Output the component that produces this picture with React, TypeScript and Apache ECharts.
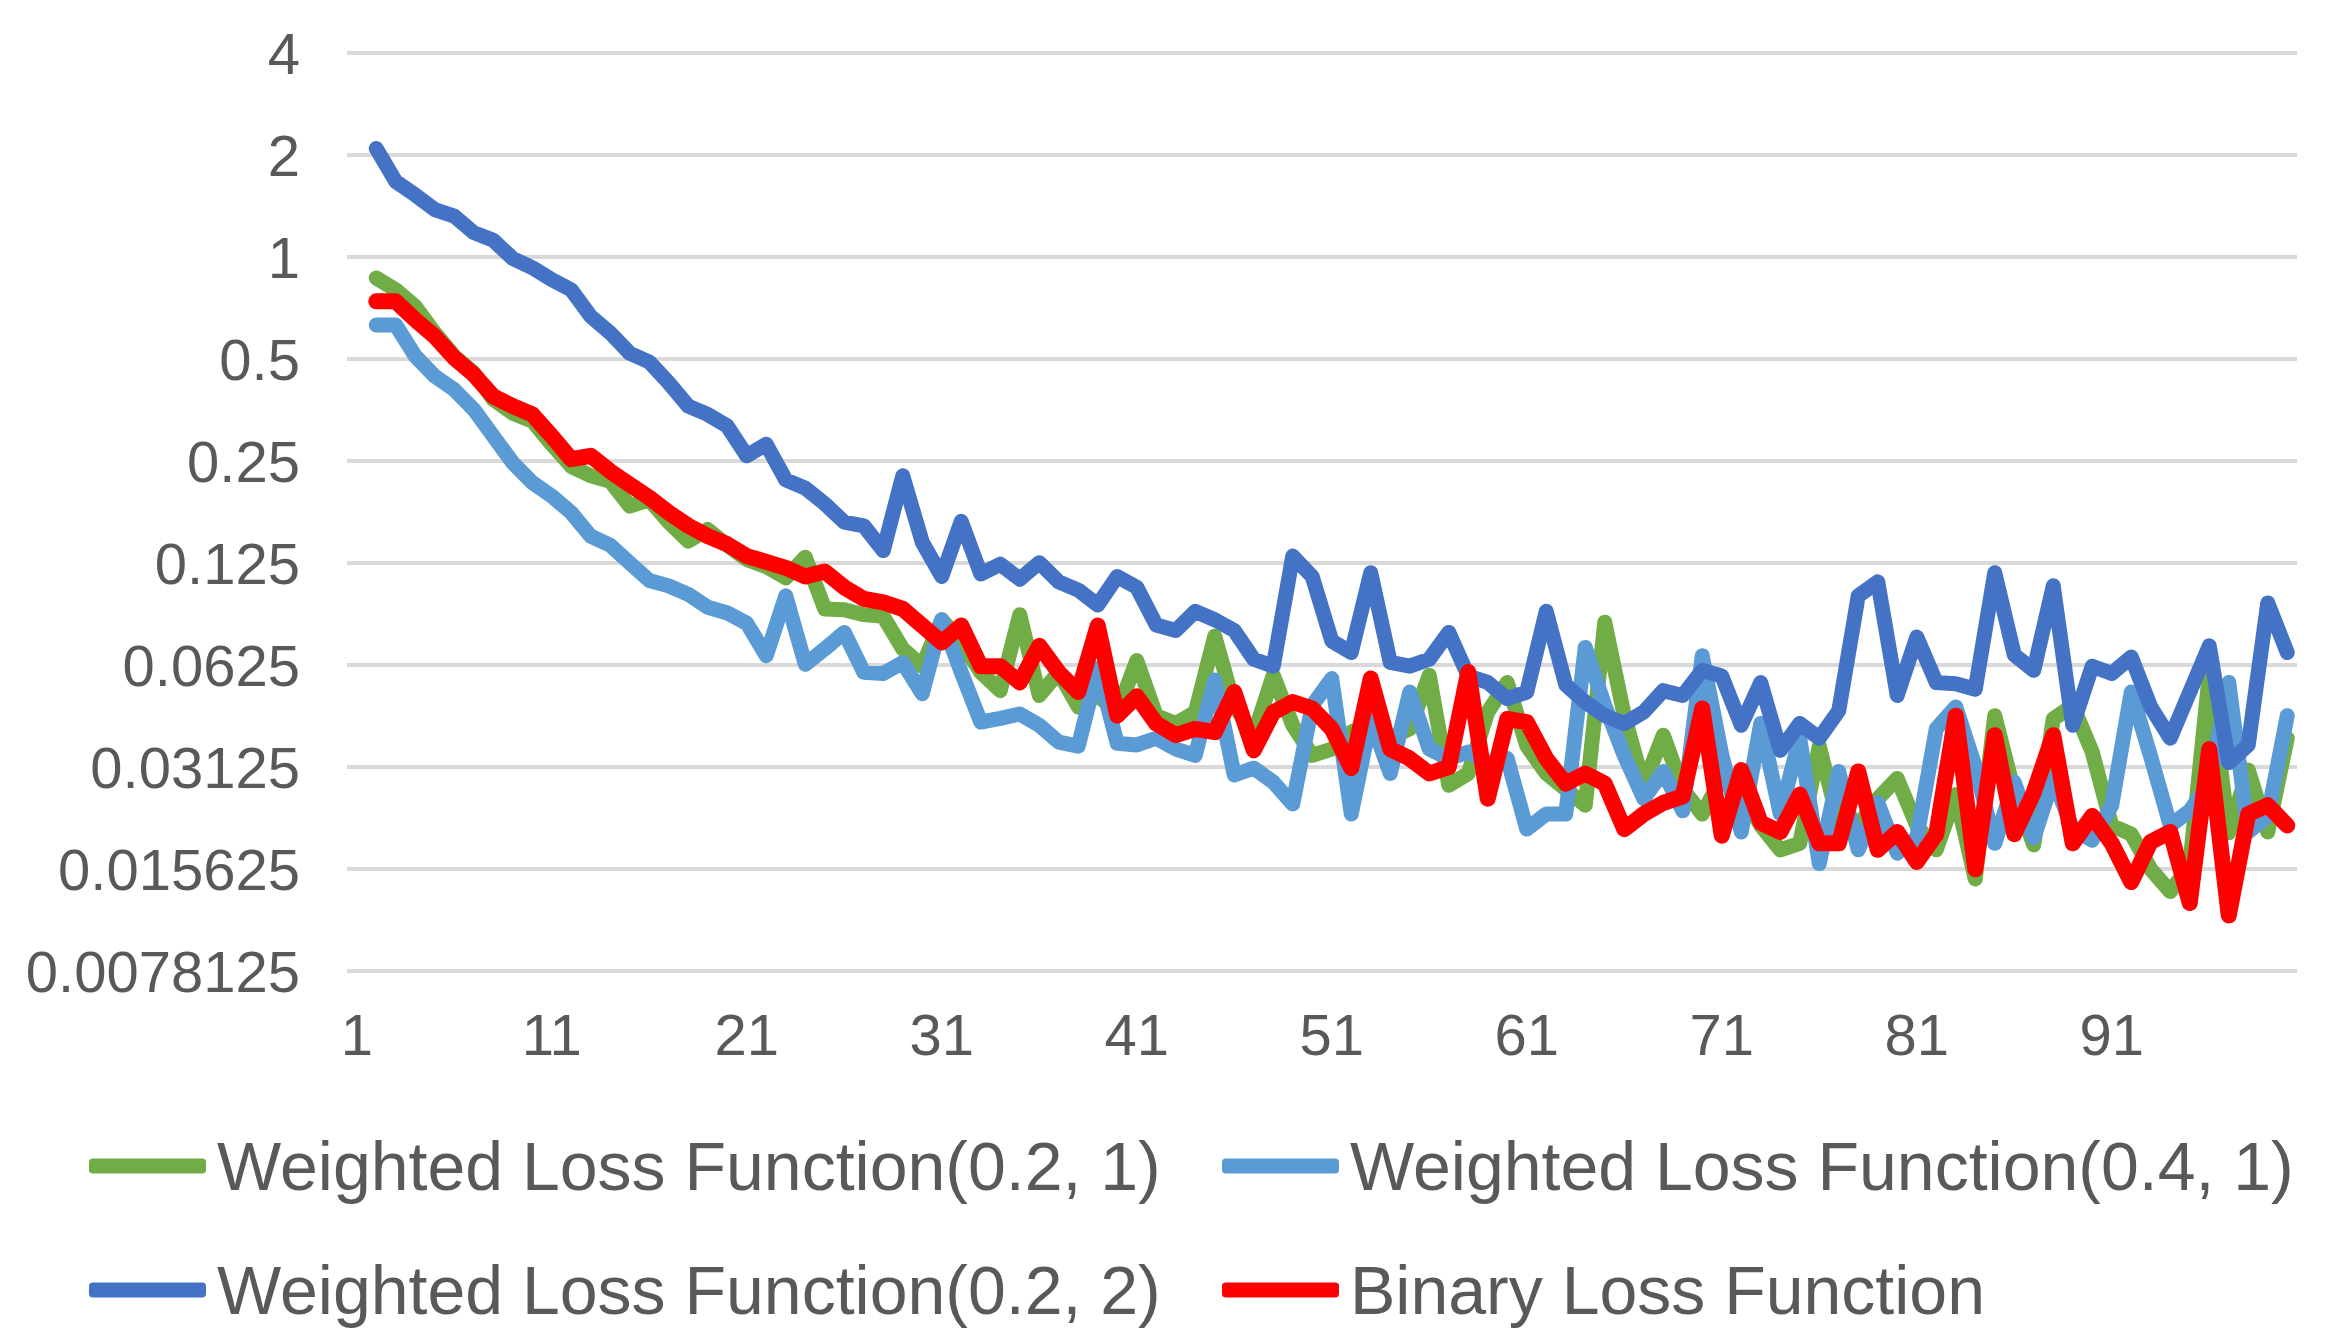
import React, { useEffect, useRef } from "react";
import * as echarts from "echarts";

// x categories 1..100 (labels shown every 10th)
const categories: string[] = Array.from({ length: 100 }, (_, i) => String(i + 1));

const seriesNames = [
  "Weighted Loss Function(0.2, 1)",
  "Weighted Loss Function(0.4, 1)",
  "Weighted Loss Function(0.2, 2)",
  "Binary Loss Function",
];

// category 1 carries no value; values start at category 2
const weighted021: (number | null)[] = [
  null,
  0.867, 0.80, 0.715, 0.597, 0.51, 0.455, 0.38, 0.346, 0.328, 0.28,
  0.241, 0.226, 0.218, 0.184, 0.192, 0.165, 0.145, 0.157, 0.141, 0.128,
  0.122, 0.113, 0.13, 0.0915, 0.091, 0.088, 0.087, 0.0697, 0.062, 0.085,
  0.073, 0.0595, 0.0525, 0.088, 0.0508, 0.0595, 0.047, 0.0508, 0.0453, 0.0644,
  0.0443, 0.042, 0.0453, 0.076, 0.0475, 0.0388, 0.0583, 0.0415, 0.0338, 0.0353,
  0.0396, 0.042, 0.038, 0.0405, 0.0583, 0.0276, 0.0299, 0.0454, 0.0555, 0.0361,
  0.0299, 0.0269, 0.0241, 0.0836, 0.0443, 0.0276, 0.0388, 0.0269, 0.0227, 0.029,
  0.0263, 0.021, 0.0178, 0.0186, 0.036, 0.0214, 0.021, 0.0252, 0.0289, 0.021,
  0.0178, 0.0259, 0.0146, 0.0443, 0.0263, 0.0184, 0.0433, 0.0475, 0.0346, 0.021,
  0.0198, 0.0156, 0.0134, 0.016, 0.0583, 0.02, 0.0306, 0.0201, 0.038,
];

const weighted041: (number | null)[] = [
  null,
  0.63, 0.63, 0.51, 0.445, 0.406, 0.355, 0.296, 0.247, 0.216, 0.197,
  0.176, 0.15, 0.141, 0.125, 0.111, 0.107, 0.101, 0.0925, 0.089, 0.083,
  0.0666, 0.1, 0.0628, 0.0697, 0.078, 0.0595, 0.059, 0.0636, 0.0514, 0.085,
  0.0595, 0.0424, 0.0435, 0.0448, 0.0415, 0.037, 0.036, 0.061, 0.0367, 0.0363,
  0.038, 0.0353, 0.0338, 0.0564, 0.0296, 0.031, 0.0282, 0.0243, 0.0475, 0.057,
  0.0227, 0.0433, 0.0299, 0.052, 0.0353, 0.0331, 0.0346, 0.0322, 0.0331, 0.0205,
  0.0227, 0.0227, 0.0704, 0.0475, 0.0338, 0.0252, 0.0303, 0.0232, 0.0666, 0.034,
  0.0201, 0.042, 0.0227, 0.038, 0.0162, 0.0303, 0.0178, 0.0245, 0.0174, 0.0193,
  0.0405, 0.047, 0.0313, 0.0186, 0.0282, 0.0193, 0.0289, 0.0205, 0.019, 0.0241,
  0.052, 0.0335, 0.021, 0.0232, 0.028, 0.0555, 0.0201, 0.0224, 0.0443,
];

const weighted022: (number | null)[] = [
  null,
  2.09, 1.67, 1.525, 1.38, 1.32, 1.18, 1.12, 0.99, 0.93, 0.857,
  0.80, 0.668, 0.597, 0.52, 0.49, 0.425, 0.363, 0.343, 0.317, 0.259,
  0.28, 0.22, 0.208, 0.187, 0.165, 0.161, 0.136, 0.226, 0.144, 0.114,
  0.166, 0.116, 0.124, 0.112, 0.1253, 0.11, 0.104, 0.094, 0.114, 0.106,
  0.082, 0.079, 0.09, 0.085, 0.079, 0.065, 0.062, 0.131, 0.114, 0.0736,
  0.068, 0.117, 0.0636, 0.062, 0.065, 0.078, 0.058, 0.0555, 0.0497, 0.052,
  0.09, 0.0546, 0.0486, 0.0443, 0.042, 0.0454, 0.0525, 0.0508, 0.0603, 0.058,
  0.0415, 0.0555, 0.035, 0.042, 0.038, 0.0458, 0.1, 0.11, 0.0508, 0.0756,
  0.0555, 0.055, 0.053, 0.117, 0.067, 0.0603, 0.107, 0.0415, 0.062, 0.059,
  0.066, 0.047, 0.038, 0.052, 0.0712, 0.0322, 0.0363, 0.0953, 0.068,
];

const binaryLoss: (number | null)[] = [
  null,
  0.74, 0.74, 0.653, 0.583, 0.504, 0.45, 0.388, 0.363, 0.343, 0.296,
  0.253, 0.259, 0.233, 0.213, 0.195, 0.176, 0.161, 0.15, 0.142, 0.131,
  0.126, 0.121, 0.114, 0.118, 0.106, 0.098, 0.0957, 0.0915, 0.0817, 0.0728,
  0.0817, 0.062, 0.062, 0.0555, 0.0712, 0.0595, 0.052, 0.0817, 0.0443, 0.0505,
  0.042, 0.0388, 0.0405, 0.0396, 0.052, 0.035, 0.0453, 0.0486, 0.0465, 0.0405,
  0.031, 0.057, 0.0353, 0.0331, 0.0299, 0.0312, 0.0596, 0.0252, 0.0433, 0.0424,
  0.0331, 0.0279, 0.0299, 0.0279, 0.0205, 0.0227, 0.0245, 0.0256, 0.0465, 0.0196,
  0.0306, 0.0214, 0.0201, 0.0259, 0.0186, 0.0186, 0.0303, 0.0178, 0.0201, 0.0164,
  0.0198, 0.0443, 0.0156, 0.0388, 0.0198, 0.0263, 0.0388, 0.0186, 0.0224, 0.0186,
  0.0143, 0.0188, 0.0201, 0.0124, 0.0353, 0.0114, 0.0227, 0.0241, 0.021,
];

const seriesData = [weighted021, weighted041, weighted022, binaryLoss];
const seriesColors = ["#70AD47", "#5B9BD5", "#4472C4", "#FF0000"];

const FONT = "'Liberation Sans', Arial, sans-serif";
const TEXT_COLOR = "#595959";

export default function App() {
  const ref = useRef<HTMLDivElement>(null);

  useEffect(() => {
    if (!ref.current) return;
    const chart = echarts.init(ref.current, undefined, { renderer: "svg" });

    const legendPos = [
      { left: 89, top: 1132 },
      { left: 1222, top: 1132 },
      { left: 89, top: 1256 },
      { left: 1222, top: 1256 },
    ];

    chart.setOption({
      animation: false,
      backgroundColor: "#ffffff",
      grid: { left: 347, right: 34, top: 53, bottom: 371, containLabel: false },
      xAxis: {
        type: "category",
        data: categories,
        boundaryGap: true,
        axisLine: { show: false },
        axisTick: { show: false },
        splitLine: { show: false },
        axisLabel: {
          interval: 9,
          color: TEXT_COLOR,
          fontSize: 58,
          fontFamily: FONT,
          margin: 34,
        },
      },
      yAxis: {
        type: "log",
        logBase: 2,
        min: 0.0078125,
        max: 4,
        interval: 1,
        axisLine: { show: false },
        axisTick: { show: false },
        splitLine: { show: true, lineStyle: { color: "#D9D9D9", width: 4 } },
        axisLabel: {
          color: TEXT_COLOR,
          fontSize: 58,
          fontFamily: FONT,
          margin: 47,
          formatter: (v: number) => {
            const e = Math.round(Math.log2(v));
            return String(Math.pow(2, e));
          },
        },
      },
      legend: seriesNames.map((name, i) => ({
        data: [name],
        left: legendPos[i].left,
        top: legendPos[i].top,
        padding: 0,
        orient: "horizontal",
        icon: "roundRect",
        itemWidth: 117,
        itemHeight: 15,
        selectedMode: false,
        textStyle: {
          color: TEXT_COLOR,
          fontSize: 68,
          fontFamily: FONT,
          lineHeight: 68,
          padding: [0, 0, 0, 6],
        },
      })),
      series: seriesNames.map((name, i) => ({
        name,
        type: "line",
        data: seriesData[i],
        symbol: "none",
        showSymbol: false,
        smooth: false,
        connectNulls: false,
        color: seriesColors[i],
        lineStyle: {
          color: seriesColors[i],
          width: i === 3 ? 16 : 15,
          cap: "round",
          join: "round",
        },
        emphasis: { disabled: true },
        z: 2 + i,
      })),
    });

    return () => chart.dispose();
  }, []);

  return (
    <div
      ref={ref}
      style={{
        position: "fixed",
        left: 0,
        top: 0,
        width: 2331,
        height: 1342,
        background: "#ffffff",
      }}
    />
  );
}
